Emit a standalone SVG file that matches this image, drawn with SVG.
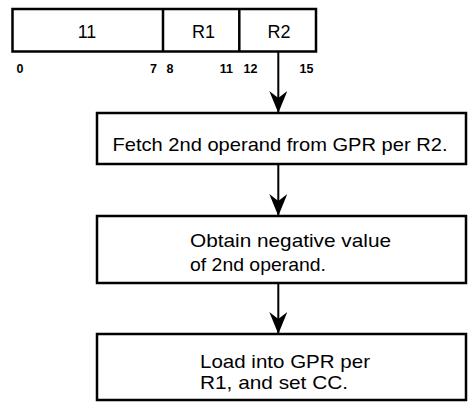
<svg xmlns="http://www.w3.org/2000/svg" width="468" height="402" viewBox="0 0 468 402">
  <style>
    .box { fill: #ffffff; stroke: #000000; stroke-width: 2.5; }
    .fld { fill: none; stroke: #000000; stroke-width: 2.5; }
    .t { font-family: "Liberation Sans", Arial, sans-serif; font-size: 19px; fill: #000000; }
    .h { font-family: "Liberation Sans", Arial, sans-serif; font-size: 18px; fill: #000000; }
    .n { font-family: "Liberation Sans", Arial, sans-serif; font-size: 12.5px; font-weight: bold; fill: #000000; }
    .c { stroke: #000000; stroke-width: 2; fill: none; }
  </style>
  <defs>
    <marker id="ah" markerUnits="userSpaceOnUse" viewBox="0 0 22 18" refX="22" refY="9" markerWidth="22" markerHeight="18" orient="auto">
      <path d="M22,9 L0,0 L7,9 L0,18 Z" fill="#000000"/>
    </marker>
  </defs>
  <rect width="468" height="402" fill="#ffffff"/>

  <g id="format">
    <rect class="fld" x="12.5" y="9" width="303.5" height="42.5"/>
    <line class="fld" x1="163" y1="9" x2="163" y2="51.5"/>
    <line class="fld" x1="239.3" y1="9" x2="239.3" y2="51.5"/>
    <text class="h" x="87" y="38.3" text-anchor="middle">11</text>
    <text class="h" x="203.5" y="38.3" text-anchor="middle">R1</text>
    <text class="h" x="279" y="38.3" text-anchor="middle">R2</text>
    <text class="n" x="16.5" y="72.7">0</text>
    <text class="n" x="157" y="72.7" text-anchor="end">7</text>
    <text class="n" x="166.5" y="72.7">8</text>
    <text class="n" x="233" y="72.7" text-anchor="end">11</text>
    <text class="n" x="243.5" y="72.7">12</text>
    <text class="n" x="313.5" y="72.7" text-anchor="end">15</text>
  </g>

  <g id="fetch">
    <rect class="box" x="97" y="113" width="369" height="51"/>
    <text class="t" x="112.5" y="150.7" textLength="335" lengthAdjust="spacingAndGlyphs">Fetch 2nd operand from GPR per R2.</text>
  </g>

  <g id="negate">
    <rect class="box" x="97" y="216" width="369" height="67"/>
    <text class="t" x="190" y="246.7" textLength="201" lengthAdjust="spacingAndGlyphs">Obtain negative value</text>
    <text class="t" x="190" y="270.7" textLength="136" lengthAdjust="spacingAndGlyphs">of 2nd operand.</text>
  </g>

  <g id="load">
    <rect class="box" x="97" y="334" width="369" height="66"/>
    <text class="t" x="200" y="368.3" textLength="170" lengthAdjust="spacingAndGlyphs">Load into GPR per</text>
    <text class="t" x="200" y="389.3" textLength="148" lengthAdjust="spacingAndGlyphs">R1, and set CC.</text>
  </g>

  <g id="connectors">
    <line class="c" x1="278.3" y1="52" x2="278.3" y2="113" marker-end="url(#ah)"/>
    <line class="c" x1="278.3" y1="164" x2="278.3" y2="216" marker-end="url(#ah)"/>
    <line class="c" x1="278.3" y1="283" x2="278.3" y2="334" marker-end="url(#ah)"/>
  </g>
</svg>
